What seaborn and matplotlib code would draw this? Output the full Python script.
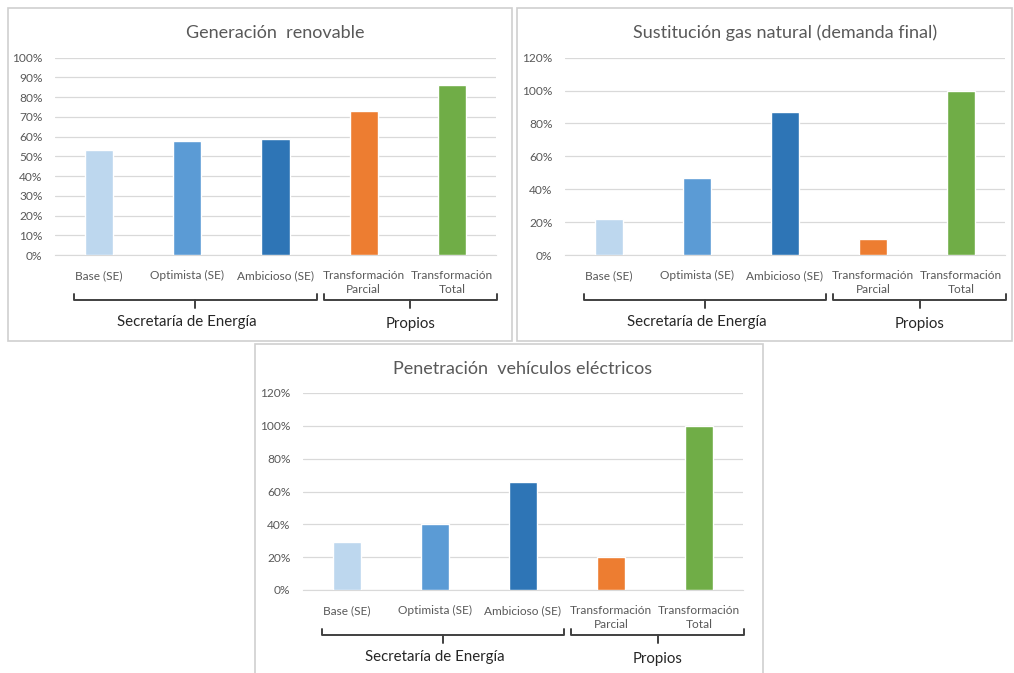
import numpy as np
import pandas as pd
import seaborn as sns
import matplotlib.pyplot as plt
from matplotlib.patches import Rectangle
from matplotlib.ticker import PercentFormatter, MultipleLocator

sns.set_style("white")
plt.rcParams['font.family'] = ['Lato', 'DejaVu Sans']

escenarios = ["Base (SE)", "Optimista (SE)", "Ambicioso (SE)",
              "Transformación\nParcial", "Transformación\nTotal"]
colores = ["#BDD7EE", "#5B9BD5", "#2E75B6", "#ED7D31", "#70AD47"]

renovable = [0.53, 0.58, 0.59, 0.73, 0.86]
gas_natural = [0.22, 0.47, 0.87, 0.10, 1.00]
vehiculos = [0.29, 0.40, 0.66, 0.20, 1.00]

grupos = ["Secretaría de Energía", "Propios"]

W, H = 1014, 673
fig = plt.figure(figsize=(W / 100, H / 100), dpi=100)


def px_axes(left, right, top, bottom):
    return fig.add_axes([left / W, 1 - bottom / H, (right - left) / W, (bottom - top) / H])


def panel_box(left, right, top, bottom):
    fig.patches.append(Rectangle((left / W, 1 - bottom / H), (right - left) / W, (bottom - top) / H,
                                 transform=fig.transFigure, fill=False,
                                 edgecolor="#CFCFCF", lw=1.2, zorder=0))


def llave(ax, x0, x1, y=-0.228):
    tr = ax.get_xaxis_transform()
    kw = dict(color="#404040", lw=1.4, transform=tr, clip_on=False, solid_capstyle="round")
    xm = (x0 + x1) / 2
    ax.plot([x0, x0, x1, x1], [y + 0.03, y, y, y + 0.03], **kw)
    ax.plot([xm, xm], [y, y - 0.04], **kw)


def grafico(ax, valores, titulo, ymax, paso):
    df = pd.DataFrame({"escenario": escenarios, "valor": valores})
    sns.barplot(data=df, x="escenario", y="valor", hue="escenario", palette=colores,
                legend=False, width=0.32, ax=ax, saturation=1, zorder=3)
    ax.set_ylim(0, ymax)
    ax.set_xlim(-0.5, 4.5)
    ax.yaxis.set_major_locator(MultipleLocator(paso))
    ax.yaxis.set_major_formatter(PercentFormatter(1.0, decimals=0))
    ax.grid(axis="y", color="#D9D9D9", lw=0.9, zorder=0)
    ax.set_axisbelow(True)
    for s in ["left", "right", "top"]:
        ax.spines[s].set_visible(False)
    ax.spines["bottom"].set_color("#D9D9D9")
    ax.set_xlabel("")
    ax.set_ylabel("")
    ax.tick_params(axis="both", length=0, colors="#595959", labelsize=8.6)
    ax.tick_params(axis="y", pad=9)
    ax.tick_params(axis="x", pad=11)
    for lbl in ax.get_xticklabels():
        lbl.set_linespacing(1.25)
    ax.set_title(titulo, fontsize=13, color="#595959", pad=14)
    llave(ax, -0.285, 2.47)
    llave(ax, 2.55, 4.51)
    tr = ax.get_xaxis_transform()
    ax.text(1.0, -0.34, grupos[0], transform=tr, ha="center", va="center",
            fontsize=10.8, color="#262626")
    ax.text(3.53, -0.35, grupos[1], transform=tr, ha="center", va="center",
            fontsize=10.8, color="#262626")


panel_box(8, 512, 8, 341)
panel_box(517, 1012, 8, 341)
panel_box(255, 763, 344, 680)

ax1 = px_axes(55, 496, 57.7, 255)
grafico(ax1, renovable, "Generación  renovable", 1.0, 0.1)

ax2 = px_axes(565, 1005, 57.7, 255)
grafico(ax2, gas_natural, "Sustitución gas natural (demanda final)", 1.2, 0.2)

ax3 = px_axes(303, 743, 393, 590)
grafico(ax3, vehiculos, "Penetración  vehículos eléctricos", 1.2, 0.2)

fig.savefig("out.png", dpi=100)
